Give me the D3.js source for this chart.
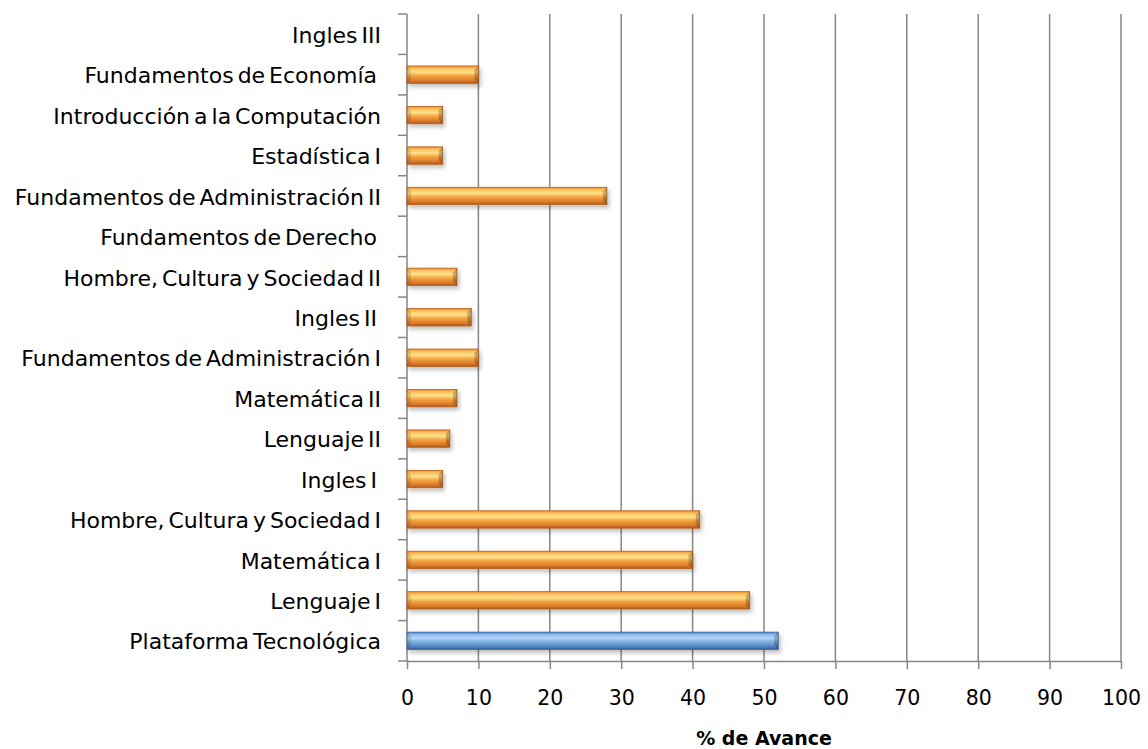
<!DOCTYPE html>
<html>
<head>
<meta charset="utf-8">
<script src="https://cdn.jsdelivr.net/npm/d3@7"></script>
<style>
  body { margin: 0; background: #fff; }
  text { font-family: "DejaVu Sans", sans-serif; fill: #000; white-space: pre; }
</style>
</head>
<body>
<svg id="chart"></svg>
<script>
// categories from top to bottom, as they appear
let courses = ["Ingles III", "Fundamentos de Economía ", "Introducción a la Computación", "Estadística I",
    "Fundamentos de Administración II", "Fundamentos de Derecho ", "Hombre, Cultura y Sociedad II", "Ingles II ",
    "Fundamentos de Administración I", "Matemática II", "Lenguaje II", "Ingles I ",
    "Hombre, Cultura y Sociedad I", "Matemática I", "Lenguaje I", "Plataforma Tecnológica"]
let avance = [0, 10, 5, 5, 28, 0, 7, 9, 10, 7, 6, 5, 41, 40, 48, 52]
let highlight = ["Plataforma Tecnológica"]
let x_ticks = [0, 10, 20, 30, 40, 50, 60, 70, 80, 90, 100]
let x_title = "% de Avance"

let width = 1148, height = 749
let svg = d3.select('#chart')
    .attr('width', width)
    .attr('height', height)

let p_left = 407, p_right = 1121, p_top = 14, p_bottom = 661

let x = d3.scaleLinear().domain([0, 100]).range([p_left, p_right])
let y = d3.scaleBand().domain(courses).range([p_top, p_bottom]).paddingInner(0.57).paddingOuter(0.285)

let defs = svg.append("defs")
function grad(id, stops) {
    let g = defs.append("linearGradient").attr("id", id)
        .attr("x1", 0).attr("y1", 0).attr("x2", 0).attr("y2", 1)
    stops.forEach(function(s){ g.append("stop").attr("offset", s[0]).attr("stop-color", s[1]) })
}
grad("orange", [[0, "#f08a2c"], [0.15, "#fbc35d"], [0.35, "#fde28e"], [0.55, "#f6a743"], [0.85, "#d9782a"], [1, "#a8561a"]])
grad("blue", [[0, "#4a7fc0"], [0.15, "#8cbcee"], [0.35, "#b4d6f8"], [0.55, "#7fb1e6"], [0.85, "#4f81bd"], [1, "#2f5a8f"]])
let f = defs.append("filter").attr("id", "shadow").attr("x", "-5%").attr("y", "-30%").attr("width", "115%").attr("height", "200%")
f.append("feDropShadow").attr("dx", 2).attr("dy", 3).attr("stdDeviation", 2).attr("flood-color", "#000").attr("flood-opacity", 0.25)

// gridlines
svg.append("g")
    .selectAll("line")
    .data(x_ticks.slice(1))
    .enter()
    .append("line")
    .attr("x1", function(d){ return x(d) })
    .attr("x2", function(d){ return x(d) })
    .attr("y1", p_top)
    .attr("y2", p_bottom)
    .attr("stroke", "#868686")
    .attr("stroke-width", 1.5)

// x axis
let xAxis = svg.append("g")
    .attr("transform", "translate(0," + p_bottom + ")")
    .call(d3.axisBottom(x).tickValues(x_ticks).tickSize(8).tickPadding(21).tickSizeOuter(0))
xAxis.select(".domain").attr("stroke", "#868686").attr("stroke-width", 1.5)
xAxis.selectAll(".tick line").attr("stroke", "#868686").attr("stroke-width", 1.5)
xAxis.selectAll("text").style("font-size", "20.5px").style("font-family", "'DejaVu Sans', sans-serif").attr("fill", "#000")

// y axis ticks at band boundaries
let bounds = courses.map(function(c){ return y(c) - y.step() * y.paddingInner() / 2 })
bounds.push(p_bottom)
svg.append("g")
    .selectAll("line")
    .data(bounds)
    .enter()
    .append("line")
    .attr("x1", p_left - 9)
    .attr("x2", p_left)
    .attr("y1", function(d){ return d })
    .attr("y2", function(d){ return d })
    .attr("stroke", "#868686")
    .attr("stroke-width", 1.5)
svg.append("line")
    .attr("x1", p_left).attr("x2", p_left)
    .attr("y1", p_top).attr("y2", p_bottom)
    .attr("stroke", "#868686")
    .attr("stroke-width", 1.5)

// labels
svg.append("g")
    .selectAll("text")
    .data(courses)
    .enter()
    .append("text")
    .attr("x", 381)
    .attr("y", function(d){ return y(d) + y.bandwidth() / 2 + 1 })
    .attr("dy", "0.35em")
    .attr("text-anchor", "end")
    .style("font-size", "22px")
    .style("word-spacing", "-3px")
    .text(function(d){ return d })

// bars
let data = courses.map(function(c, i){ return {name: c, v: avance[i]} })
let bars = svg.append("g")
    .selectAll("g")
    .data(data.filter(function(d){ return d.v > 0 }))
    .enter()
    .append("g")
    .attr("transform", function(d){ return "translate(" + x(0) + "," + y(d.name) + ")" })
bars.append("rect")
    .attr("width", function(d){ return x(d.v) - x(0) })
    .attr("height", y.bandwidth())
    .attr("fill", function(d){ return highlight.includes(d.name) ? "url(#blue)" : "url(#orange)" })
    .attr("stroke", function(d){ return highlight.includes(d.name) ? "#3d6ba3" : "#b3621f" })
    .attr("stroke-width", 0.8)
    .attr("filter", "url(#shadow)")
// bevel corners
bars.append("path")
    .attr("d", function(d){
        let h = y.bandwidth(), b = 4
        return "M0,0 L" + b + "," + b + " L" + b + "," + (h - b) + " L0," + h + "Z"
    })
    .attr("fill", "#000").attr("opacity", 0.12)
bars.append("path")
    .attr("d", function(d){
        let w = x(d.v) - x(0), h = y.bandwidth(), b = 4
        return "M" + w + ",0 L" + (w - b) + "," + b + " L" + (w - b) + "," + (h - b) + " L" + w + "," + h + "Z"
    })
    .attr("fill", "#000").attr("opacity", 0.22)

// axis title
svg.append("text")
    .attr("x", (p_left + p_right) / 2)
    .attr("y", 745)
    .attr("text-anchor", "middle")
    .style("font-size", "19px")
    .style("font-weight", "bold")
    .text(x_title)
</script>
</body>
</html>
